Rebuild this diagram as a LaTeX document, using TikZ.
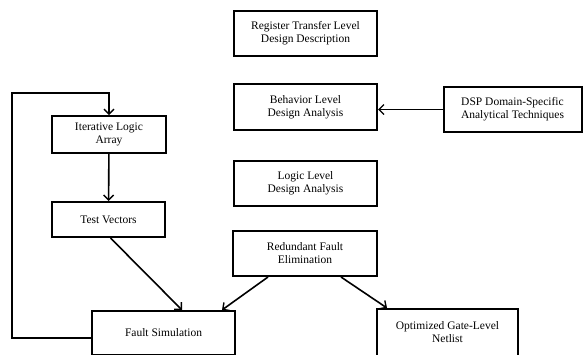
\documentclass[tikz,border=0pt]{standalone}
\usepackage{fontspec}
\setmainfont{Liberation Serif}
\usetikzlibrary{arrows.meta}
\begin{document}
\begin{tikzpicture}[x=1pt,y=-1pt,
  box/.style={draw,line width=2pt,align=center,inner sep=2pt,
    font=\fontsize{11.5}{13}\selectfont},
  conn/.style={line width=1.6pt,-{Straight Barb[length=5pt,width=10pt,line width=1.4pt]}}]
\useasboundingbox (0,0) rectangle (583,354);
\clip (0,0) rectangle (583,354);
\node[box,minimum width=143pt,minimum height=45pt] (rtl) at (305.5,33.5) {Register Transfer Level\\Design Description};
\node[box,minimum width=143pt,minimum height=46pt] (beh) at (305.5,107) {Behavior Level\\Design Analysis};
\node[box,minimum width=138pt,minimum height=45pt] (dsp) at (512.5,109.5) {DSP Domain-Specific\\Analytical Techniques};
\node[box,minimum width=143pt,minimum height=45pt] (log) at (305.5,183.5) {Logic Level\\Design Analysis};
\node[box,minimum width=144pt,minimum height=45pt] (rfe) at (305,253.5) {Redundant Fault\\Elimination};
\node[box,minimum width=141pt,minimum height=47pt] (opt) at (447.5,332.5) {Optimized Gate-Level\\Netlist};
\node[box,minimum width=114pt,minimum height=37pt] (ila) at (109,134.5) {Iterative Logic\\Array};
\node[box,minimum width=113pt,minimum height=35pt] (tv) at (108.5,219.5) {Test Vectors};
\node[box,minimum width=143pt,minimum height=44pt] (fs) at (163.5,333) {Fault Simulation};
\coordinate (lb) at (12,338);
\coordinate (lt) at (12,93);
\draw[conn] (dsp.west) -- (dsp.west -| beh.east);
\draw[conn] (ila) -- (tv);
\draw[conn] ([xshift=2pt]tv.south) -- ([xshift=91pt]fs.north west);
\draw[conn] ([xshift=36pt]rfe.south west) -- ([xshift=131pt]fs.north west);
\draw[conn] ([xshift=109pt]rfe.south west) -- ([xshift=11pt]opt.north west);
\draw[conn] ([yshift=-5pt]fs.west) -- (lb) -- (lt) -| (ila.north);
\end{tikzpicture}
\end{document}
